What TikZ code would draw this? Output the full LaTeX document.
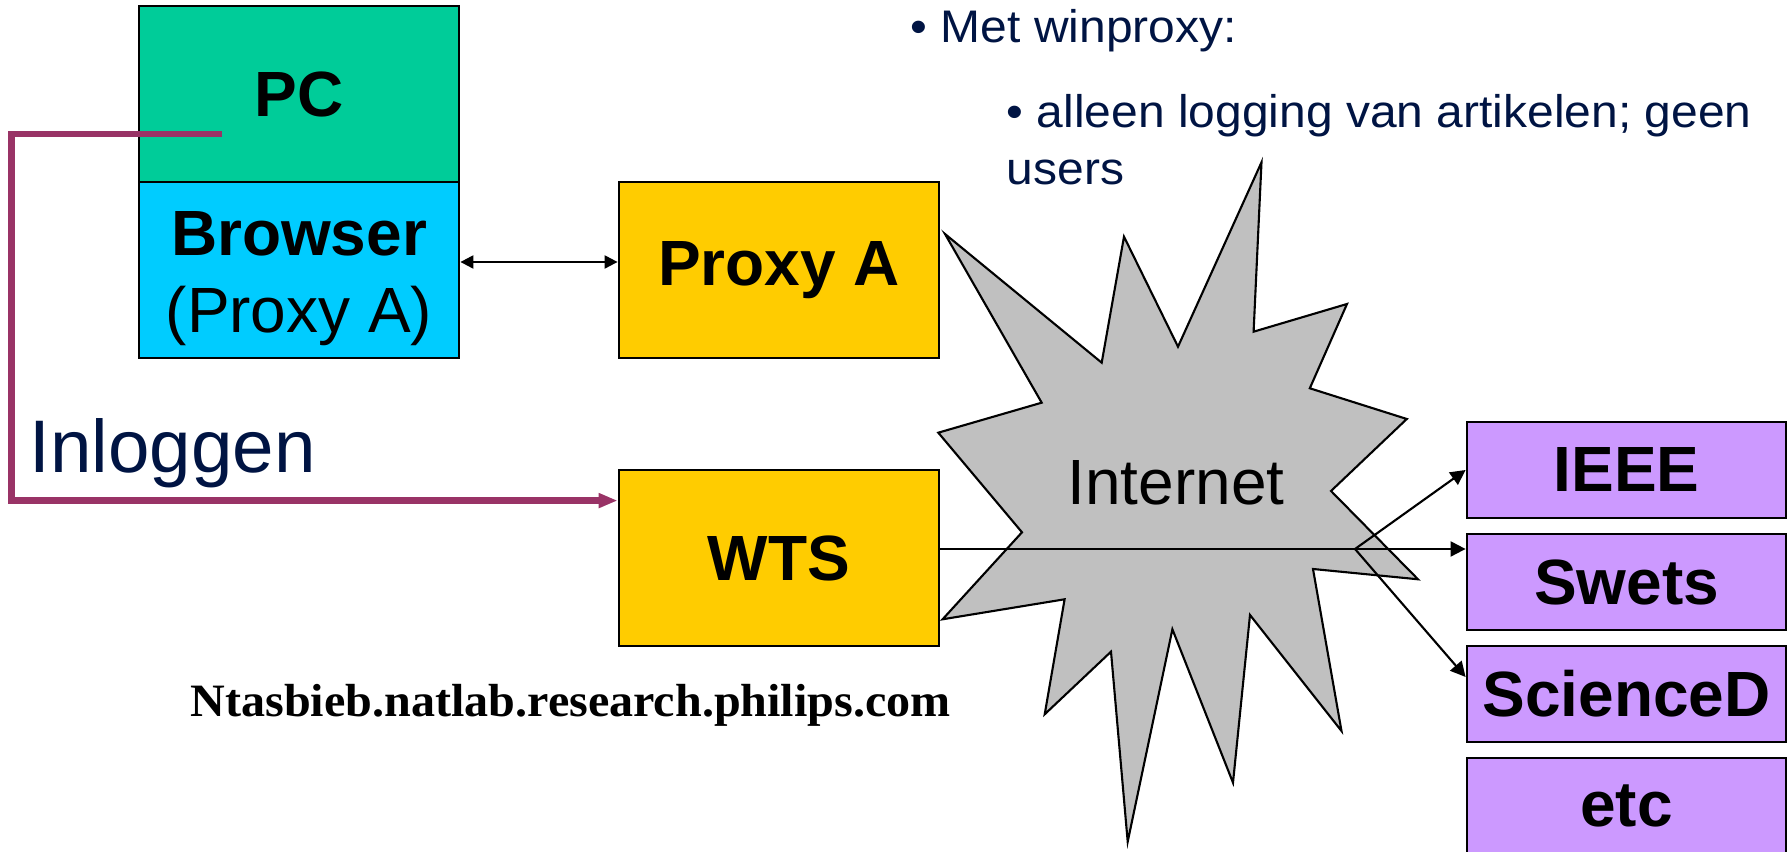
\documentclass[tikz,border=0pt]{standalone}
\usepackage{fontspec}
\setmainfont{Liberation Sans}
\newfontfamily\notefont[FakeStretch=1.05]{Liberation Sans}
\newfontfamily\urlfont[FakeStretch=1.037]{Liberation Serif}
\usepackage{xcolor}
\usepackage{tikz}
\usetikzlibrary{arrows.meta}
\usetikzlibrary{calc}
\definecolor{pcgreen}{HTML}{00CC99}
\definecolor{browsercyan}{HTML}{00CCFF}
\definecolor{proxyyellow}{HTML}{FFCC00}
\definecolor{dbpurple}{HTML}{CC99FF}
\definecolor{cloudgray}{HTML}{C0C0C0}
\definecolor{loginred}{HTML}{993366}
\definecolor{textnavy}{HTML}{001443}
\tikzstyle{block}=[rectangle,draw=black,line width=0.8pt,minimum width=32mm,minimum height=17.6mm,inner sep=0pt,align=center,font=\fontsize{18.2}{21.8}\selectfont\bfseries]
\tikzstyle{srcblock}=[block,fill=dbpurple,minimum width=31.9mm,minimum height=9.6mm]
\tikzstyle{edge}=[draw,line width=0.6pt,-{Triangle[length=1.5mm,width=1.5mm]}]
\tikzstyle{dedge}=[draw,line width=0.6pt,{Triangle[length=1.3mm,width=1.3mm]}-{Triangle[length=1.3mm,width=1.3mm]}]
\tikzstyle{loginedge}=[draw=loginred,line width=1.8pt,-{Triangle[length=1.9mm,width=1.4mm]}]
\tikzstyle{cloud}=[draw=black,fill=cloudgray,line width=0.6pt,line join=miter]
\tikzset{navytext/.style={inner sep=0pt,text=textnavy,anchor=base west}}

\begin{document}
\begin{tikzpicture}[x=0.1mm,y=-0.1mm]
\useasboundingbox (0,0) rectangle (1790,852);

 %Internet
 \draw[cloud] (945,234) -- (1101.7,362.7) -- (1124,236.7) -- (1178,346.7)
   -- (1261.5,162.3) -- (1253.6,331.7) -- (1347,304) -- (1309.8,388.3)
   -- (1406.8,419) -- (1331,491) -- (1418,579.3) -- (1313,569)
   -- (1341.5,731) -- (1250,615) -- (1233,782.7) -- (1172.4,629.3)
   -- (1127.7,841.7) -- (1111,651.7) -- (1044.7,714.3) -- (1064.6,599.3)
   -- (942.6,619.3) -- (1022,532.3) -- (938.3,432.7) -- (1041.7,402.7) -- cycle;
 \node[inner sep=0pt,anchor=base,font=\fontsize{18.2}{21.8}\selectfont] (inet) at (1176,505) {Internet};

 %PC
 \node[block,fill=pcgreen] (pc) at (299,94) {PC};
 \node[block,fill=browsercyan] (browser) at (299,270) {\rule{0pt}{6.1mm}Browser\\\mdseries(Proxy A)};

 %proxies
 \node[block,fill=proxyyellow] (proxya) at (779,270) {Proxy A};
 \node[block,fill=proxyyellow] (wts) at (779,558) {WTS};

 %databases
 \foreach \y/\name/\label in {470/ieee/IEEE, 582/swets/Swets, 694/sciencd/ScienceD, 806/etc/etc}
   \node[srcblock] (\name) at (1626.5,\y) {\label};

 %texts
 \node[navytext,font=\notefont\fontsize{13}{16.2}\selectfont] (winproxy) at (910,43) {• Met winproxy:};
 \node[navytext,font=\notefont\fontsize{13}{16.2}\selectfont] (logging) at (1006,128) {• alleen logging van artikelen; geen};
 \node[navytext,font=\notefont\fontsize{13}{16.2}\selectfont] (users) at (1006,185) {users};
 \node[navytext,font=\fontsize{21.2}{25}\selectfont] (inlog) at (29,473) {Inloggen};
 \node[inner sep=0pt,anchor=base west,font=\urlfont\bfseries\fontsize{13.2}{16}\selectfont] (host) at (190,717) {Ntasbieb.natlab.research.philips.com};

 %connectors
 \coordinate (pcport) at (222,134);
 \coordinate (branch) at (1355,549);
 \path[dedge] ($(browser.east)+(0,-8)$) -- ($(proxya.west)+(0,-8)$);
 \path[loginedge] (pcport) -- (11.5,134) |- ($(wts.north west)+(0,32)$);
 \path[edge] ($(wts.east)+(0,-9)$) -- ($(swets.west)+(0,-33)$);
 \path[edge] (branch) -- (ieee.west);
 \path[edge] (branch) -- ($(sciencd.west)+(0,-17)$);

\end{tikzpicture}
\end{document}
